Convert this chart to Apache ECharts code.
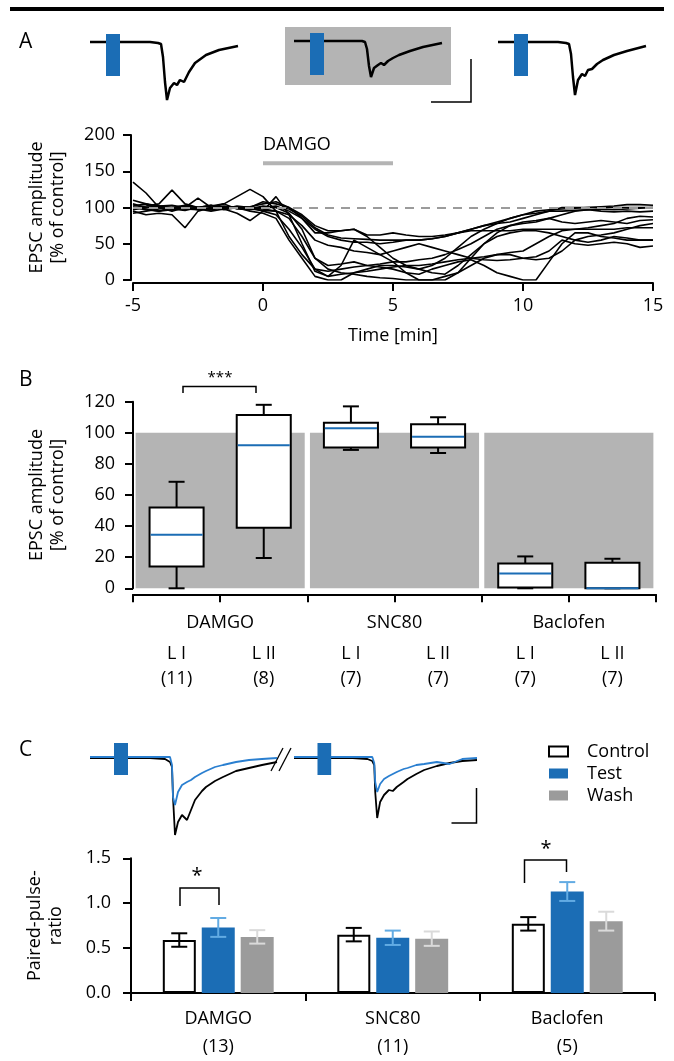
<!DOCTYPE html>
<html>
<head>
<meta charset="utf-8">
<script src="https://cdn.jsdelivr.net/npm/echarts@6/dist/echarts.min.js"></script>
<style>
  html, body { margin: 0; background: #fff; }
  #fig { width: 674px; height: 1061px; }
</style>
</head>
<body>
<div id="fig"></div>
<script>
const FONT = 'Open Sans';
const BLUE = '#1b6db5';
const GREY = '#9b9b9b';
const BG_GREY = '#b4b4b4';

// panel A, example EPSCs (sweep time, amplitude relative to baseline)
let sweepA = [0,15,30,45,60,68,71,73,75,77,80,84,87,90,94,99,105,116,129,148];
let epscBefore = [0,0,0,0,0,-1,-2,-15,-40,-58,-46,-41,-43,-38,-40,-30,-21,-13,-8,-4];
let epscDamgo = [0,0,0,0,0,0,-1,-8,-25,-36,-27,-24,-22,-24,-20,-17,-14,-10,-6,-2];
let epscWash = [0,0,0,0,0,-1,-2,-12,-35,-53,-38,-32,-34,-28,-27,-22,-18,-13,-9,-4];
let stimA = [16, 30];
let stimAmpA = [8, -34];

// panel A, time course of single cells (% of control)
let timeMin = [-5,-4.5,-4,-3.5,-3,-2.5,-2,-1.5,-1,-0.5,0,0.5,1,1.5,2,2.5,3,3.5,4,4.5,5,5.5,6,6.5,7,7.5,8,8.5,9,9.5,10,10.5,11,11.5,12,12.5,13,13.5,14,14.5,15];
let cell1 = [135,120,100,98,102,100,97,101,99,100,95,90,70,45,15,5,8,10,15,20,20,18,15,20,30,45,60,70,78,85,90,95,97,98,99,100,101,102,104,104,103];
let cell2 = [100,102,105,124,105,100,103,98,102,100,108,105,100,90,75,68,68,70,62,62,65,62,60,60,62,65,70,75,80,85,90,92,95,95,96,97,95,94,95,94,95];
let cell3 = [95,90,92,90,72,95,100,97,100,95,92,85,55,30,5,0,0,10,12,15,18,20,20,22,25,28,30,32,35,38,40,50,60,68,70,72,75,78,85,88,87];
let cell4 = [105,100,100,95,100,113,100,105,98,97,100,102,95,85,70,60,55,52,52,50,52,55,55,57,60,65,68,68,68,68,70,70,70,70,70,70,70,70,72,72,72];
let cell5 = [98,100,102,100,98,100,102,105,115,125,115,95,60,35,15,12,15,18,20,22,25,25,28,30,35,42,50,60,70,75,78,80,85,90,95,97,98,97,98,99,100];
let cell6 = [100,98,95,97,100,98,95,98,92,82,95,115,90,50,12,5,20,55,45,35,25,10,0,0,5,10,20,30,35,35,30,28,30,40,55,60,62,65,70,75,78];
let cell7 = [92,95,98,100,103,100,97,100,99,101,105,108,100,85,65,65,68,70,60,45,30,20,15,10,8,20,35,50,60,65,68,68,65,60,55,52,55,60,58,55,55];
let cell8 = [102,105,100,98,96,100,103,100,100,98,96,95,85,60,30,20,22,25,20,18,15,10,8,15,20,25,28,20,10,5,0,0,25,50,65,65,60,58,55,55,55];
let cell9 = [110,105,102,100,98,97,100,102,100,100,98,95,90,75,55,48,45,40,38,35,40,45,50,45,40,35,30,28,27,28,30,32,40,55,50,48,50,52,50,45,47];
let cell10 = [100,97,95,100,102,100,98,100,101,100,100,100,92,70,30,15,10,8,5,3,2,0,0,0,0,10,30,50,65,75,80,82,85,80,78,80,82,80,78,82,83];
let cell11 = [97,100,102,103,100,97,99,101,100,98,102,100,98,88,72,62,58,57,56,55,55,55,55,57,60,65,70,75,78,80,85,90,95,100,100,100,100,100,100,100,100];
let cells = [cell1, cell2, cell3, cell4, cell5, cell6, cell7, cell8, cell9, cell10, cell11];
let drugOn = [0, 5];
let drugBarLevel = 161;

// panel B, box plots
let drugs = ['DAMGO', 'SNC80', 'Baclofen'];
let layers = ['L I', 'L II', 'L I', 'L II', 'L I', 'L II'];
let layerN = ['(11)', '(8)', '(7)', '(7)', '(7)', '(7)'];
let boxMin = [0, 19.5, 89, 87, 0, 0];
let boxQ1 = [14, 39, 90.5, 90.5, 0.5, 0];
let boxMed = [34.5, 92, 103, 97.5, 9.5, 0];
let boxQ3 = [52, 111.5, 106.5, 105.5, 16, 16.5];
let boxMax = [68.5, 118, 117, 110, 20.5, 19];
let controlLevel = [100, 100, 100];

// panel C, example traces
let sweepC = [0,20,40,60,75,80,82,83,85,88,92,97,101,105,112,116,125,133,146,159,172,187];
let ctrlTrace1 = [-1,-1,-1,-1,-2,-5,-10,-40,-78,-65,-58,-63,-53,-43,-34,-30,-24,-20,-14,-11,-8,-5];
let testTrace1 = [0,0,0,0,0,0,-8,-40,-48,-35,-28,-25,-23,-20,-16,-14,-10,-8,-5,-3,-2,-1];
let ctrlTrace2 = [-1,-1,-1,-1,-2,-4,-8,-35,-61,-45,-38,-33,-34,-30,-25,-22,-17,-13,-9,-6,-4,-3];
let testTrace2 = [0,0,0,0,0,0,-6,-25,-35,-27,-22,-19,-17,-15,-12,-11,-8,-7,-5,-7,-2,-1];
let stimC = [24, 38];
let stimAmpC = [14, -18];

// panel C, paired-pulse ratio
let pprN = ['(13)', '(11)', '(5)'];
let pprControl = [0.59, 0.65, 0.77];
let pprControlErr = [0.075, 0.075, 0.075];
let pprTest = [0.73, 0.615, 1.13];
let pprTestErr = [0.105, 0.08, 0.105];
let pprWash = [0.625, 0.605, 0.80];
let pprWashErr = [0.075, 0.08, 0.105];

let chart = echarts.init(document.getElementById('fig'));

function trace(vals, t, idx, yIdx, color, width) {
  return {
    type: 'line', xAxisIndex: idx, yAxisIndex: yIdx, silent: true,
    data: t.map((x, i) => [x, vals[i]]),
    symbol: 'none', lineStyle: { color: color, width: width }, z: 2
  };
}

function stim(range, amp, idx, yIdx) {
  return {
    type: 'custom', xAxisIndex: idx, yAxisIndex: yIdx, silent: true, z: 4,
    data: [[range[0], range[1], amp[0], amp[1]]],
    renderItem: function (params, api) {
      let a = api.coord([api.value(0), api.value(2)]);
      let b = api.coord([api.value(1), api.value(3)]);
      return { type: 'rect', shape: { x: a[0], y: a[1], width: b[0] - a[0], height: b[1] - a[1] }, style: { fill: BLUE } };
    }
  };
}

function errBars(vals, errs, color, shift) {
  return {
    type: 'custom', xAxisIndex: 8, yAxisIndex: 7, silent: true, z: 5,
    data: vals.map((v, i) => [i, v, errs[i]]),
    renderItem: function (params, api) {
      let hi = api.coord([api.value(0), api.value(1) + api.value(2)]);
      let lo = api.coord([api.value(0), api.value(1) - api.value(2)]);
      let x = hi[0] + shift;
      let st = { stroke: color, lineWidth: 2 };
      return { type: 'group', children: [
        { type: 'line', shape: { x1: x, y1: hi[1], x2: x, y2: lo[1] }, style: st },
        { type: 'line', shape: { x1: x - 8, y1: hi[1], x2: x + 8, y2: hi[1] }, style: st },
        { type: 'line', shape: { x1: x - 8, y1: lo[1], x2: x + 8, y2: lo[1] }, style: st }
      ] };
    }
  };
}

let axisBase = {
  axisLine: { show: true, onZero: false, lineStyle: { color: '#000', width: 2 } },
  axisTick: { show: true, length: 8, lineStyle: { color: '#000', width: 2 } },
  axisLabel: { color: '#000', fontSize: 18, fontFamily: FONT },
  splitLine: { show: false }
};
let yName = { color: '#000', fontSize: 18, lineHeight: 21, fontFamily: FONT };

let series = [];
// A traces
series.push(trace(epscBefore, sweepA, 0, 0, '#000', 2.5));
series.push(trace(epscDamgo, sweepA, 1, 1, '#000', 2.5));
series.push(trace(epscWash, sweepA, 2, 2, '#000', 2.5));
series.push(stim(stimA, stimAmpA, 0, 0));
series.push(stim(stimA, stimAmpA, 1, 1));
series.push(stim(stimA, stimAmpA, 2, 2));
// A time course
cells.forEach(function (c, k) {
  let s = trace(c, timeMin, 3, 3, '#000', 1.6);
  if (k === 0) {
    s.markLine = {
      silent: true, symbol: 'none', label: { show: false },
      lineStyle: { color: GREY, type: [9, 7], width: 2 },
      data: [{ yAxis: 100 }]
    };
  }
  series.push(s);
});
series.push({
  type: 'line', xAxisIndex: 3, yAxisIndex: 3, silent: true, symbol: 'none',
  data: drugOn.map(t => [t, drugBarLevel]),
  lineStyle: { color: BG_GREY, width: 4 }
});
// B
series.push({
  type: 'bar', xAxisIndex: 5, yAxisIndex: 4, silent: true, z: 1,
  data: controlLevel, barWidth: '97%', itemStyle: { color: BG_GREY }
});
series.push({
  type: 'custom', xAxisIndex: 4, yAxisIndex: 4, silent: true, z: 3,
  data: layers.map((c, i) => [i, boxMin[i], boxQ1[i], boxMed[i], boxQ3[i], boxMax[i]]),
  renderItem: function (params, api) {
    let i = api.value(0);
    let lo = api.coord([i, api.value(1)]);
    let q1 = api.coord([i, api.value(2)]);
    let md = api.coord([i, api.value(3)]);
    let q3 = api.coord([i, api.value(4)]);
    let hi = api.coord([i, api.value(5)]);
    let w = api.size([1, 0])[0] * 0.62;
    let x = lo[0];
    let st = { stroke: '#000', lineWidth: 2 };
    return { type: 'group', children: [
      { type: 'line', shape: { x1: x, y1: hi[1], x2: x, y2: q3[1] }, style: st },
      { type: 'line', shape: { x1: x, y1: q1[1], x2: x, y2: lo[1] }, style: st },
      { type: 'line', shape: { x1: x - 8, y1: hi[1], x2: x + 8, y2: hi[1] }, style: st },
      { type: 'line', shape: { x1: x - 8, y1: lo[1], x2: x + 8, y2: lo[1] }, style: st },
      { type: 'rect', shape: { x: x - w / 2, y: q3[1], width: w, height: q1[1] - q3[1] }, style: { fill: '#fff', stroke: '#000', lineWidth: 2 } },
      { type: 'line', shape: { x1: x - w / 2 + 1, y1: md[1], x2: x + w / 2 - 1, y2: md[1] }, style: { stroke: BLUE, lineWidth: 2 } }
    ] };
  }
});
// C traces
series.push(trace(ctrlTrace1, sweepC, 6, 5, '#000', 1.8));
series.push(trace(testTrace1, sweepC, 6, 5, '#2a7fd0', 1.8));
series.push(trace(ctrlTrace2, sweepC, 7, 6, '#000', 1.8));
series.push(trace(testTrace2, sweepC, 7, 6, '#2a7fd0', 1.8));
series.push(stim(stimC, stimAmpC, 6, 5));
series.push(stim(stimC, stimAmpC, 7, 6));
// C bars
series.push({
  name: 'Control', type: 'bar', xAxisIndex: 8, yAxisIndex: 7, data: pprControl,
  barWidth: 33, barGap: '18%', itemStyle: { color: '#fff', borderColor: '#000', borderWidth: 2 }
});
series.push({
  name: 'Test', type: 'bar', xAxisIndex: 8, yAxisIndex: 7, data: pprTest,
  barWidth: 33, barGap: '18%', itemStyle: { color: BLUE }
});
series.push({
  name: 'Wash', type: 'bar', xAxisIndex: 8, yAxisIndex: 7, data: pprWash,
  barWidth: 33, barGap: '18%', itemStyle: { color: GREY }
});
series.push(errBars(pprControl, pprControlErr, '#000', -39));
series.push(errBars(pprTest, pprTestErr, '#62abe3', 0));
series.push(errBars(pprWash, pprWashErr, '#dadada', 39));

function txt(x, y, s, size, align) {
  return { type: 'text', x: x, y: y, style: { text: s, fontSize: size, fontFamily: FONT, fill: '#000', align: align || 'left', verticalAlign: 'middle' } };
}
function poly(pts, w) {
  return { type: 'polyline', shape: { points: pts }, style: { stroke: '#000', lineWidth: w || 1.5, fill: null } };
}

chart.setOption({
  animation: false,
  textStyle: { fontFamily: FONT },
  grid: [
    { left: 90, top: 32, width: 148, height: 70 },
    { left: 285, top: 27, width: 166, height: 58, show: true, backgroundColor: BG_GREY, borderWidth: 0 },
    { left: 498, top: 32, width: 148, height: 70 },
    { left: 133, top: 135, width: 520, height: 145 },
    { left: 133, top: 401.7, width: 523, height: 186.6 },
    { left: 90, top: 740, width: 187, height: 100 },
    { left: 294, top: 740, width: 183, height: 100 },
    { left: 131, top: 858.3, width: 523.5, height: 138.4 }
  ],
  legend: {
    data: ['Control', 'Test', 'Wash'], orient: 'vertical', left: 548, top: 741,
    itemWidth: 19, itemHeight: 10, itemGap: 1, icon: 'rect', padding: 0,
    textStyle: { fontSize: 18, lineHeight: 21, color: '#000', fontFamily: FONT, padding: [0, 0, 0, 14] }
  },
  xAxis: [
    { gridIndex: 0, type: 'value', min: 0, max: 148, show: false },
    { gridIndex: 1, type: 'value', min: -9, max: 157, show: false },
    { gridIndex: 2, type: 'value', min: 0, max: 148, show: false },
    Object.assign({}, axisBase, {
      gridIndex: 3, type: 'value', min: -5, max: 15, interval: 5, offset: 3,
      name: 'Time [min]', nameLocation: 'middle', nameGap: 42, nameTextStyle: yName,
      axisLabel: Object.assign({}, axisBase.axisLabel, { margin: 14 })
    }),
    Object.assign({}, axisBase, {
      gridIndex: 4, type: 'category', data: layers, position: 'bottom', offset: 6,
      axisLabel: { color: '#000', fontSize: 18, fontFamily: FONT, lineHeight: 25, margin: 47,
        formatter: (v, i) => v + '\n' + layerN[i] }
    }),
    { gridIndex: 4, type: 'category', data: drugs, position: 'bottom', offset: 6,
      axisLine: { show: false }, axisTick: { show: false }, splitLine: { show: false },
      axisLabel: { color: '#000', fontSize: 18, fontFamily: FONT, margin: 20 } },
    { gridIndex: 5, type: 'value', min: 0, max: 187, show: false },
    { gridIndex: 6, type: 'value', min: 0, max: 187, show: false },
    Object.assign({}, axisBase, {
      gridIndex: 7, type: 'category', data: drugs,
      axisLabel: { color: '#000', fontSize: 18, fontFamily: FONT, lineHeight: 28, margin: 12,
        formatter: (v, i) => v + '\n' + pprN[i] }
    })
  ],
  yAxis: [
    { gridIndex: 0, type: 'value', min: -60, max: 10, show: false },
    { gridIndex: 1, type: 'value', min: -44, max: 14, show: false },
    { gridIndex: 2, type: 'value', min: -60, max: 10, show: false },
    Object.assign({}, axisBase, {
      gridIndex: 3, type: 'value', min: 0, max: 200, interval: 50, offset: 2,
      name: 'EPSC amplitude\n[% of control]', nameLocation: 'middle', nameGap: 63, nameRotate: 90,
      nameTextStyle: yName, axisLabel: Object.assign({}, axisBase.axisLabel, { margin: 16 })
    }),
    Object.assign({}, axisBase, {
      gridIndex: 4, type: 'value', min: 0, max: 120, interval: 20,
      name: 'EPSC amplitude\n[% of control]', nameLocation: 'middle', nameGap: 65, nameRotate: 90,
      nameTextStyle: yName, axisLabel: Object.assign({}, axisBase.axisLabel, { margin: 18 })
    }),
    { gridIndex: 5, type: 'value', min: -83, max: 17, show: false },
    { gridIndex: 6, type: 'value', min: -83, max: 17, show: false },
    Object.assign({}, axisBase, {
      gridIndex: 7, type: 'value', min: 0, max: 1.5, interval: 0.5,
      name: 'Paired-pulse-\nratio', nameLocation: 'middle', nameGap: 65, nameRotate: 90,
      nameTextStyle: yName,
      axisLabel: Object.assign({}, axisBase.axisLabel, { margin: 20, formatter: v => v.toFixed(1) })
    })
  ],
  graphic: [
    { type: 'rect', shape: { x: 10, y: 7, width: 654, height: 4 }, style: { fill: '#000' } },
    txt(19, 42, 'A', 21),
    txt(19, 380, 'B', 21),
    txt(19, 750, 'C', 21),
    txt(263, 145, 'DAMGO', 18),
    poly([[431, 102], [471, 102], [471, 59]]),
    poly([[183, 393], [183, 386.5], [256, 386.5], [256, 393]]),
    txt(220, 378, '***', 15, 'center'),
    { type: 'line', shape: { x1: 271, y1: 771, x2: 283, y2: 748 }, style: { stroke: '#000', lineWidth: 1.3 } },
    { type: 'line', shape: { x1: 279, y1: 771, x2: 291, y2: 748 }, style: { stroke: '#000', lineWidth: 1.3 } },
    poly([[451.5, 823], [476.5, 823], [476.5, 788]]),
    poly([[180, 906], [180, 888], [219, 888], [219, 905]]),
    txt(197, 876, '*', 20, 'center'),
    poly([[524.5, 883], [524.5, 860], [566.5, 860], [566.5, 872]]),
    txt(546, 849, '*', 20, 'center')
  ],
  series: series
});
</script>
</body>
</html>
